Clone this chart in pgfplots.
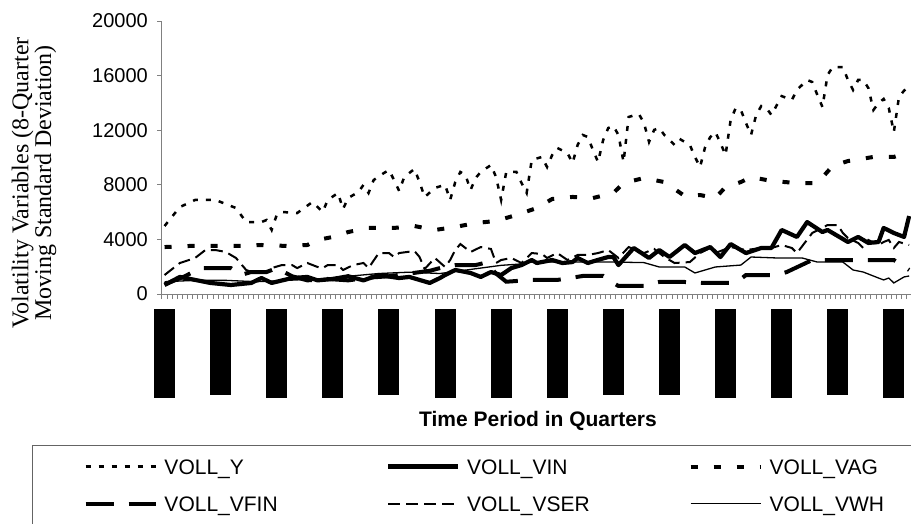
\documentclass[border=0pt]{standalone}
\usepackage{fontspec}
\setmainfont{Liberation Sans}
\newfontfamily\timesfont{Liberation Serif}
\usepackage{pgfplots}
\pgfplotsset{compat=1.18}
\definecolor{axgray}{RGB}{128,128,128}
\definecolor{boxgray}{RGB}{100,100,100}

% quarter index, value
\pgfplotstableread{
x y
0 4980
3 6370
6 6890
10 6890
12 6590
14 6300
16 5270
19 5270
20 5420
21 4690
22 5800
23 6010
26 5930
29 6740
31 6010
32 6890
34 7400
35 6230
36 7030
38 7470
39 7990
40 7400
41 8350
43 8860
44 9080
45 8350
46 7550
47 8570
49 9160
50 8200
51 7100
53 7770
55 8000
56 6890
57 8200
58 8940
59 8720
60 7620
61 8500
62 8940
64 9450
65 8570
66 6890
67 8940
69 8940
70 8130
71 7400
72 9820
74 10040
75 9300
76 10180
77 10700
79 10330
80 9600
81 10920
82 11650
83 11500
84 10550
85 9670
86 11280
87 12160
88 12310
89 11650
90 9670
91 12970
93 13190
94 12530
95 11140
96 12020
97 12160
98 11650
100 10920
101 11360
103 10920
104 10040
105 9300
106 10770
107 11500
108 11870
109 11060
110 10180
111 12750
112 13630
113 13480
114 12530
115 11650
116 13110
117 13770
118 13630
119 13110
121 14500
123 14210
124 14950
126 15680
127 15530
128 14580
129 13700
130 16040
131 16630
133 16630
134 15680
135 14950
136 15680
137 15680
138 15090
139 13480
140 13990
141 14290
142 13630
143 11870
144 14430
145 14900
146 15170
}\volly

\pgfplotstableread{
x y
0 660
3 1250
6 1030
9 810
13 660
17 810
19 1170
21 810
25 1170
28 1250
30 1000
33 1100
36 1300
39 1000
42 1390
46 1170
48 1250
50 1030
52 810
54 1170
55 1390
57 1760
60 1540
62 1250
64 1610
66 1390
68 1900
70 2120
72 2490
73 2270
76 2490
78 2270
80 2340
81 2640
83 2270
85 2500
87 2710
88 2710
89 2120
92 3370
95 2640
97 3220
99 2710
102 3590
104 3000
107 3440
109 2710
111 3660
114 3000
117 3370
119 3370
121 4690
124 4180
126 5270
129 4540
130 4690
134 3810
136 4180
138 3740
140 3810
141 4840
143 4470
145 4180
146 5710
}\vollvin

\pgfplotstableread{
x y
0 3440
5 3520
10 3520
15 3520
19 3590
24 3520
28 3590
30 3960
33 4180
36 4540
40 4840
45 4840
49 4980
53 4690
57 4910
61 5200
65 5350
69 5790
73 6300
76 6960
80 7110
84 7030
88 7400
90 8130
94 8500
98 8200
102 7180
105 7250
108 7030
110 7840
113 8200
115 8570
119 8280
124 8130
128 8130
131 9380
134 9740
139 10040
143 10040
146 10400
}\vollvag

\pgfplotstableread{
x y
0 700
4 1300
7 1900
13 1900
15 1400
17 1610
20 1610
22 1900
25 1300
28 1000
32 1100
36 1000
40 1200
44 1300
48 1500
52 1700
55 2000
57 2120
61 2120
63 2300
65 1500
67 900
72 1030
77 1030
80 1200
82 1320
86 1320
88 800
89 590
94 590
96 800
97 880
102 880
104 840
106 810
111 810
113 1100
114 1390
119 1390
121 1500
122 1610
127 2490
131 2490
136 2490
138 2490
143 2490
146 1760
}\vollvfin

\pgfplotstableread{
x y
0 1390
3 2270
6 2640
8 3220
10 3220
12 3080
14 2640
16 1760
17 1610
20 1610
21 1900
23 2120
25 2120
26 1900
28 2270
30 1980
31 1900
32 2120
34 2120
35 1760
37 2120
39 2270
40 1900
42 3000
44 3000
45 2710
46 3000
49 3150
50 2710
51 1830
53 2640
55 1980
56 2490
57 3220
58 3660
60 3080
62 3440
64 3300
65 2270
66 2490
68 2640
70 2270
72 3000
74 2930
75 2640
77 3000
79 2490
81 2860
83 2860
85 3000
87 3220
89 2640
91 3440
94 3000
96 3300
98 2710
100 2270
103 2340
105 3000
107 3370
108 3000
111 3440
114 3220
117 3370
119 3370
121 3590
123 3370
124 3000
127 4470
130 5050
132 5050
133 4470
134 4100
136 3740
137 3370
138 3960
140 3590
141 3810
142 3960
143 3370
144 3810
146 3590
}\vollvser

\pgfplotstableread{
x y
0 900
6 1000
12 1000
18 900
24 1000
30 1100
36 1300
42 1500
48 1600
54 1500
58 1700
62 1900
66 2100
70 2200
72 2340
80 2340
88 2340
94 2300
97 1980
102 1980
104 1540
108 1980
113 2120
115 2710
120 2640
125 2640
128 2340
133 2340
135 1760
137 1610
140 1170
141 1030
142 1170
143 810
145 1250
146 1320
}\vollvwh

\begin{document}
\begin{tikzpicture}[x=1pt,y=1pt]
\begin{axis}[
  at={(162pt,229pt)}, anchor=south west,
  scale only axis, width=749.7pt, height=273pt,
  xmin=-0.5, xmax=146.5, ymin=0, ymax=20000,
  axis x line*=bottom, axis y line*=left,
  axis line style={draw=axgray, line width=1pt, -},
  every outer x axis line/.append style={-},
  every outer y axis line/.append style={-},
  tick align=outside, major tick length=5pt,
  tick style={draw=axgray, line width=1pt},
  ytick={0,4000,8000,12000,16000,20000},
  scaled y ticks=false,
  /pgf/number format/assume math mode=true,
  yticklabel style={font=\fontsize{20}{20}\selectfont, inner sep=0pt, xshift=-9pt,
    /pgf/number format/fixed, /pgf/number format/set thousands separator={}},
  xtick={-0.5,0.5,...,146.5}, xticklabels={},
  extra x ticks={0,11,22,33,44,55,66,77,88,99,110,121,132,143},
  extra x tick labels={\rule{21pt}{89pt},\rule{21pt}{86pt},\rule{21pt}{89pt},\rule{21pt}{89pt},\rule{21pt}{86pt},\rule{21pt}{89pt},\rule{21pt}{89pt},\rule{21pt}{89pt},\rule{21pt}{86pt},\rule{21pt}{86pt},\rule{21pt}{89pt},\rule{21pt}{89pt},\rule{21pt}{86pt},\rule{21pt}{89pt}},
  extra x tick style={major tick length=0pt, tick label style={anchor=north, inner sep=0pt, yshift=-15pt}},
  legend columns=3,
  legend cell align=left,
  legend image code/.code={\draw[#1] (0pt,0pt) -- (70pt,0pt);},
  legend style={at={(axis description cs:-0.1734,-0.5513)}, anchor=north west,
    draw=boxgray, line width=1pt, inner xsep=51pt, inner ysep=3pt,
    column sep=0pt, row sep=0pt,
    nodes={inner sep=0pt, text height=26pt, text depth=11pt},
    font=\fontsize{21}{21}\selectfont},
]
\addplot[black, line width=2.5pt, dash pattern=on 5pt off 8pt] table {\volly};
\addplot[black, line width=4.2pt, line join=round] table {\vollvin};
\addplot[black, line width=4pt, dash pattern=on 7pt off 16pt] table {\vollvag};
\addplot[black, line width=4pt, dash pattern=on 28pt off 15pt] table {\vollvfin};
\addplot[black, line width=2pt, dash pattern=on 12pt off 6pt] table {\vollvser};
\addplot[black, line width=1.3pt] table {\vollvwh};
\legend{
  \makebox[228.5pt][l]{\hspace{7pt}VOLL\_Y},
  \makebox[228.5pt][l]{\hspace{7pt}VOLL\_VIN},
  \makebox[228.5pt][l]{\hspace{7pt}VOLL\_VAG},
  \makebox[228.5pt][l]{\hspace{7pt}VOLL\_VFIN},
  \makebox[228.5pt][l]{\hspace{7pt}VOLL\_VSER},
  \makebox[228.5pt][l]{\hspace{7pt}VOLL\_VWH}}
\end{axis}
\node[rotate=90, align=center, font=\timesfont\fontsize{24}{18}\selectfont] at (34,340)
  {Volatility Variables (8-Quarter\\Moving Standard Deviation)};
\node[font=\fontsize{21}{21}\selectfont\bfseries] at (538,102) {Time Period in Quarters};
\pgfresetboundingbox
\path[use as bounding box] (0,0) rectangle (911,523);
\end{tikzpicture}
\end{document}
